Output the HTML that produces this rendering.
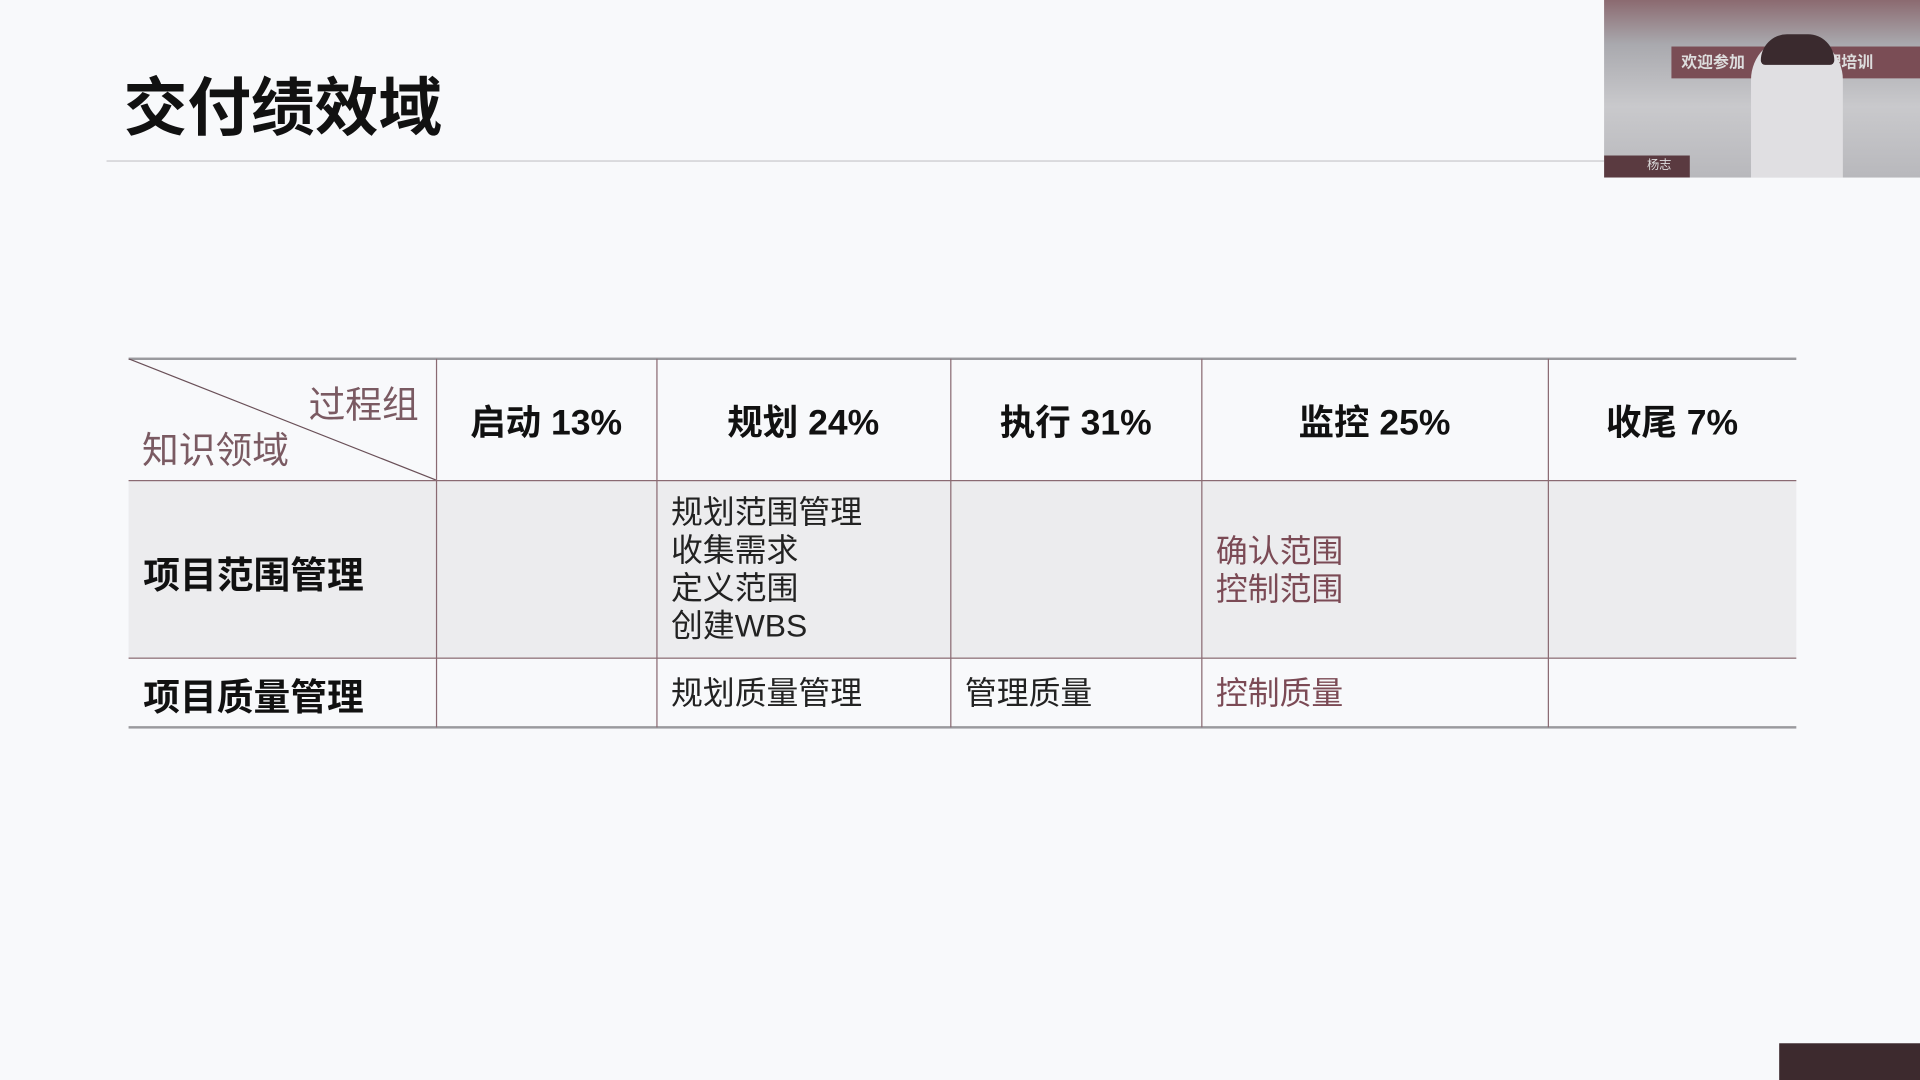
<!DOCTYPE html>
<html><head><meta charset="utf-8"><style>
html,body{margin:0;padding:0;width:1920px;height:1080px;overflow:hidden;background:#f8f9fb;}
#s{position:absolute;left:0;top:0;width:1568px;height:882px;transform:scale(1.22449);transform-origin:0 0;font-family:"Liberation Sans","Noto Sans CJK SC",sans-serif;}
.a{position:absolute;}
.v{position:absolute;top:293px;height:301px;width:1px;background:#8a6a72;}
.h{position:absolute;left:105px;width:1362px;height:1px;background:#8a6a72;}
.hd{position:absolute;top:293px;height:99px;display:flex;align-items:center;justify-content:center;font-weight:bold;font-size:29px;color:#111;}
.t{position:absolute;font-size:26px;line-height:31px;color:#222;}
.m{color:#7b4a55;}
</style></head><body>
<div id="s">
<div class="a" style="left:101px;top:46px;font-size:52px;font-weight:bold;color:#111;">交付绩效域</div>
<div class="a" style="left:87px;top:131px;width:1223px;height:1px;background:#c8c8cc;"></div>
<div class="a" style="left:1310px;top:0;width:258px;height:145px;background:linear-gradient(180deg,#8b6a70 0,#a9a9ae 25%,#c9c9cc 60%,#b8b8bc 100%);overflow:hidden;">
 <div class="a" style="left:55px;top:38px;width:200px;height:26px;background:#7a4d55;color:#ddd;font-size:13px;font-weight:bold;line-height:26px;padding-left:8px;">欢迎参加 &nbsp; &nbsp; &nbsp; &nbsp; &nbsp; 目管理培训</div>
 <div class="a" style="left:120px;top:30px;width:75px;height:115px;background:#e0dfe2;border-radius:35px 35px 0 0;"></div>
 <div class="a" style="left:128px;top:28px;width:60px;height:25px;background:#3a2a2e;border-radius:30px 30px 5px 5px;"></div>
 <div class="a" style="left:0;top:127px;width:70px;height:18px;background:#5a3a40;color:#ddd;font-size:10px;line-height:18px;padding-left:35px;box-sizing:border-box;">杨志</div>
</div>
<div class="a" style="left:105px;top:392px;width:1362px;height:145px;background:#ececee;"></div>
<div class="a" style="left:105px;top:292px;width:1362px;height:2px;background:#9a9a9e;"></div>
<div class="h" style="top:392px;"></div>
<div class="h" style="top:537px;"></div>
<div class="a" style="left:105px;top:593px;width:1362px;height:2px;background:#9a9a9e;"></div>
<div class="v" style="left:356px"></div><div class="v" style="left:536px"></div><div class="v" style="left:776px"></div><div class="v" style="left:981px"></div><div class="v" style="left:1264px"></div>
<svg class="a" style="left:105px;top:293px" width="251" height="99"><line x1="0" y1="0" x2="251" y2="99" stroke="#6a5058" stroke-width="1"/></svg>
<div class="a" style="left:252px;top:306px;font-size:30px;color:#7a5a62;">过程组</div>
<div class="a" style="left:116px;top:343px;font-size:30px;color:#7a5a62;">知识领域</div>
<div class="hd" style="left:356px;width:180px;">启动 13%</div>
<div class="hd" style="left:536px;width:240px;">规划 24%</div>
<div class="hd" style="left:776px;width:205px;">执行 31%</div>
<div class="hd" style="left:981px;width:283px;">监控 25%</div>
<div class="hd" style="left:1264px;width:203px;">收尾 7%</div>
<div class="a" style="left:117px;top:445px;font-size:30px;font-weight:bold;color:#111;">项目范围管理</div>
<div class="a" style="left:117px;top:545px;font-size:30px;font-weight:bold;color:#111;">项目质量管理</div>
<div class="t" style="left:548px;top:403px;">规划范围管理<br>收集需求<br>定义范围<br>创建WBS</div>
<div class="t m" style="left:993px;top:435px;">确认范围<br>控制范围</div>
<div class="t" style="left:548px;top:551px;">规划质量管理</div>
<div class="t" style="left:788px;top:551px;">管理质量</div>
<div class="t m" style="left:993px;top:551px;">控制质量</div>
<div class="a" style="left:1453px;top:852px;width:115px;height:30px;background:#3d2a2e;"></div>
</div>
</body></html>
